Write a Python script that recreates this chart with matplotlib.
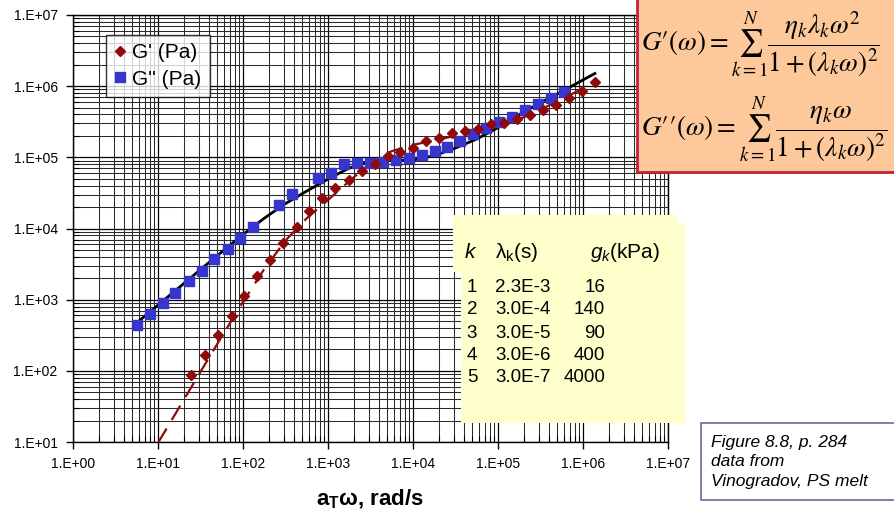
import numpy as np
import matplotlib
matplotlib.use("Agg")
import matplotlib.pyplot as plt
from matplotlib.ticker import LogLocator, FuncFormatter, NullFormatter
from matplotlib.patches import Rectangle
from matplotlib.lines import Line2D

plt.rcParams['font.family'] = ['Liberation Sans', 'DejaVu Sans']
plt.rcParams['mathtext.fontset'] = 'custom'
plt.rcParams['mathtext.rm'] = 'Liberation Sans'
plt.rcParams['mathtext.it'] = 'Liberation Sans:italic'
plt.rcParams['mathtext.bf'] = 'Liberation Sans:bold'

# ---- data: G'' (loss modulus), squares ----
w_Gpp = [5.616, 8.05, 11.36, 15.98, 22.97, 32.67, 45.96, 66.07, 92.2, 132.2, 266.7, 377.2,
         769, 1079, 1543, 2194, 3120, 4400, 6310, 8900, 12760, 18000, 25320, 35920, 51220,
         72640, 102700, 146950, 207800, 295500, 416900, 592800]
Gpp = [436.5, 629, 907, 1241, 1830, 2505, 3693, 5204, 7357, 10600, 21540, 30530,
       50770, 60650, 80620, 84100, 83800, 86010, 91150, 97880, 108900, 122000, 141100, 171300,
       212800, 255900, 310700, 372400, 458100, 561700, 677700, 823100]

# ---- data: G' (storage modulus), diamonds ----
w_Gp = [24.44, 35.72, 51.22, 73.63, 103.6, 147.3, 207.8, 298, 428.4, 602.6, 850, 1225,
        1781, 2512, 3572, 5012, 7034, 9920, 14220, 20330, 29150, 40910, 57860, 82080,
        116700, 166000, 237900, 338300, 483800, 688000, 973200, 1391000]
Gp = [88.3, 165.4, 318.9, 589.8, 1116, 2151, 3610, 6318, 10600, 17340, 26660, 37330,
      48510, 63260, 79330, 102800, 117700, 136100, 168600, 185800, 221900, 232200, 253400, 294100,
      300800, 347900, 388500, 456600, 543700, 671200, 860800, 1137000]

# ---- fitted curves ----
w_fit_pp = [5.62, 10, 17.8, 31.6, 56.2, 100, 178, 316, 562, 1000, 1780, 3160, 5620, 1e4,
            1.78e4, 3.16e4, 5.62e4, 1e5, 1.78e5, 3.16e5, 5.62e5, 1e6, 1.38e6]
Gpp_fit = [472, 839, 1490, 2647, 4683, 8201, 13960, 22390, 33580, 49480, 70880, 88120, 90900,
           91450, 105700, 135300, 180900, 261700, 397800, 586700, 837600, 1224000, 1507000]
w_fit_p = [10, 17.8, 31.6, 56.2, 100, 178, 316, 562, 1000, 1780, 3160, 5620, 1e4, 1.78e4,
           3.16e4, 5.62e4, 1e5, 1.78e5, 3.16e5, 5.62e5, 1e6]
Gp_fit = [9.73, 30.7, 96.9, 303, 930.6, 2693, 6793, 13910, 25100, 46380, 82860, 122100,
          149800, 172400, 201000, 234300, 273500, 342800, 470200, 652400, 936200]

# ---- table ----
tab_k = ['1', '2', '3', '4', '5']
tab_lam = ['2.3E-3', '3.0E-4', '3.0E-5', '3.0E-6', '3.0E-7']
tab_g = ['16', '140', '90', '400', '4000']

x_ticks = [1e0, 1e1, 1e2, 1e3, 1e4, 1e5, 1e6, 1e7]
y_ticks = [1e1, 1e2, 1e3, 1e4, 1e5, 1e6, 1e7]

W, H = 894, 519
fig = plt.figure(figsize=(W / 100, H / 100), dpi=100)
fig.patch.set_facecolor('white')

def fx(px):
    return px / W

def fy(py):
    return 1 - py / H

ax = fig.add_axes([fx(73), fy(442), fx(668) - fx(73), fy(15) - fy(442)])
ax.set_xscale('log')
ax.set_yscale('log')
ax.set_xlim(1e0, 1e7)
ax.set_ylim(1e1, 1e7)

ax.xaxis.set_major_locator(LogLocator(base=10, numticks=20))
ax.yaxis.set_major_locator(LogLocator(base=10, numticks=20))
ax.xaxis.set_minor_locator(LogLocator(base=10, subs=np.arange(2, 10), numticks=100))
ax.yaxis.set_minor_locator(LogLocator(base=10, subs=np.arange(2, 10), numticks=100))
ax.set_xticks(x_ticks)
ax.set_yticks(y_ticks)
fmt = FuncFormatter(lambda v, p: "1.E+%02d" % int(round(np.log10(v))))
ax.xaxis.set_major_formatter(fmt)
ax.yaxis.set_major_formatter(fmt)
ax.xaxis.set_minor_formatter(NullFormatter())
ax.yaxis.set_minor_formatter(NullFormatter())

ax.grid(True, which='major', color='black', lw=0.9)
ax.grid(True, which='minor', color='#2a2a2a', lw=0.75)
ax.set_axisbelow(True)
ax.tick_params(which='major', direction='out', length=5, width=1, labelsize=10, pad=6)
ax.tick_params(which='minor', direction='in', length=4, width=0.8)
for s in ax.spines.values():
    s.set_color('black')
    s.set_linewidth(1.0)

red = '#8f0b0b'
blue = '#3636cf'

ax.plot(w_fit_pp, Gpp_fit, color='black', lw=2.0, zorder=3)
ax.plot(w_fit_p, Gp_fit, color=red, lw=1.6, linestyle=(0, (7.5, 4.5)), zorder=3)
ax.plot(w_Gpp, Gpp, linestyle='none', marker='s', markersize=7.5, color=blue,
        markeredgecolor=blue, zorder=4)
ax.plot(w_Gp, Gp, linestyle='none', marker='D', markersize=5.5, color=red,
        markeredgecolor=red, zorder=5)

h1 = Line2D([], [], linestyle='none', marker='D', markersize=5.5, color=red)
h2 = Line2D([], [], linestyle='none', marker='s', markersize=7.5, color=blue)
leg = ax.legend([h1, h2], ["G' (Pa)", "G'' (Pa)"], loc='upper left',
                bbox_to_anchor=((106 - 73) / 595, (442 - 35) / 427), borderaxespad=0,
                fontsize=15, frameon=True, fancybox=False, handlelength=0.55,
                handletextpad=0.3, borderpad=0.4, labelspacing=0.35)
leg.get_frame().set_edgecolor('black')
leg.get_frame().set_linewidth(1.0)
leg.set_zorder(6)

# x-axis label
fig.text(fx(370), fy(499), r'a$_\mathbf{T}$ω, rad/s', ha='center', va='center',
         fontsize=16, fontweight='bold')

# formula box
fig.patches.append(Rectangle((fx(637), fy(172)), fx(W + 10) - fx(637), fy(-5) - fy(172),
                             transform=fig.transFigure, facecolor='#fdc99b',
                             edgecolor='#c2213a', lw=2, zorder=10))
fig.text(fx(641), fy(44), r"$G\prime(\omega) = \sum_{k=1}^{N}\dfrac{\eta_k\lambda_k\omega^2}{1+(\lambda_k\omega)^2}$",
         ha='left', va='center', fontsize=19.5, math_fontfamily='stix', zorder=11)
fig.text(fx(641), fy(129), r"$G\prime\prime(\omega) = \sum_{k=1}^{N}\dfrac{\eta_k\omega}{1+(\lambda_k\omega)^2}$",
         ha='left', va='center', fontsize=19.5, math_fontfamily='stix', zorder=11)

# table box
tcol = '#ffffcc'
fig.patches.append(Rectangle((fx(453), fy(272)), fx(677) - fx(453), fy(215) - fy(272),
                             transform=fig.transFigure, facecolor=tcol, edgecolor='none', zorder=10))
fig.patches.append(Rectangle((fx(461), fy(423)), fx(685) - fx(461), fy(223) - fy(423),
                             transform=fig.transFigure, facecolor=tcol, edgecolor='none', zorder=10))
fig.text(fx(470), fy(253), 'k', style='italic', ha='center', va='center', fontsize=15, zorder=11)
fig.text(fx(495), fy(253), r'λ$_\mathregular{k}$(s)', ha='left', va='center', fontsize=15, zorder=11)
fig.text(fx(590), fy(253), r'$g_k$(kPa)', ha='left', va='center', fontsize=15, zorder=11)
row_y = [287, 310, 333, 356, 378]
for k, lam, g, yy in zip(tab_k, tab_lam, tab_g, row_y):
    fig.text(fx(472), fy(yy), k, ha='center', va='center', fontsize=13.5, zorder=11)
    fig.text(fx(495), fy(yy), lam, ha='left', va='center', fontsize=13.5, zorder=11)
    fig.text(fx(605), fy(yy), g, ha='right', va='center', fontsize=13.5, zorder=11)

# note box
fig.patches.append(Rectangle((fx(701), fy(500)), fx(W + 10) - fx(701), fy(423) - fy(500),
                             transform=fig.transFigure, facecolor='white',
                             edgecolor='#6a6aa0', lw=1.2, zorder=10))
fig.text(fx(711), fy(462), "Figure 8.8, p. 284\ndata from\nVinogradov, PS melt",
         ha='left', va='center', fontsize=12.5, style='italic', linespacing=1.4, zorder=11)

fig.savefig('out.png', dpi=100)
